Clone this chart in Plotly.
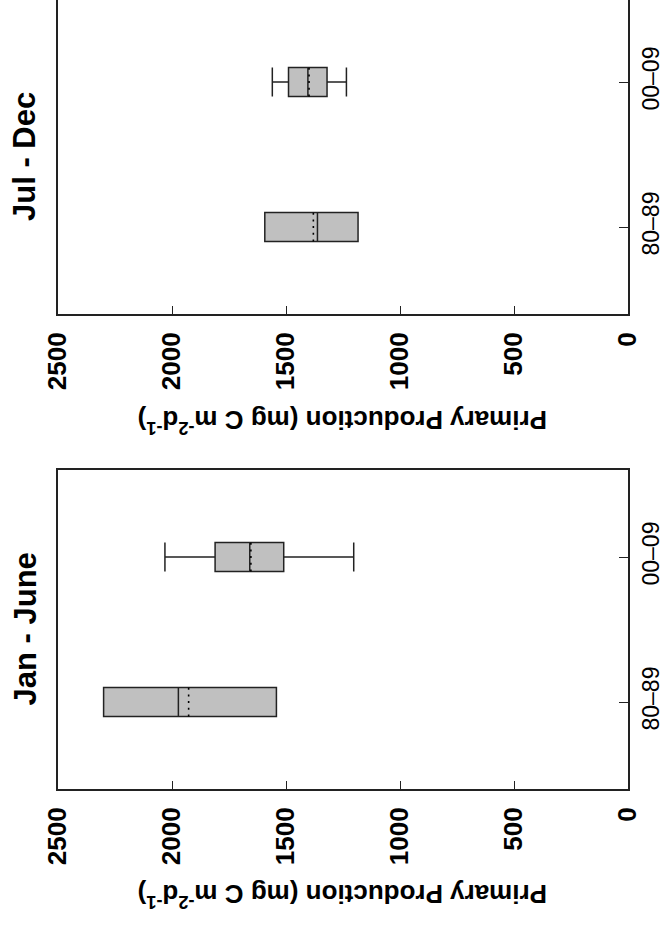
import plotly.graph_objects as go

# Decades compared in each half-year panel
categories = ["80–89", "00–09"]
cat_pos = [0, 1]

# Jan - June primary production summary (mg C m-2 d-1)
jan_q1 = [1542, 1510]
jan_median = [1972, 1659]
jan_q3 = [2300, 1811]
jan_lower = [1542, 1203]
jan_upper = [2300, 2031]
jan_mean = [1927, 1654]

# Jul - Dec primary production summary (mg C m-2 d-1)
jul_q1 = [1184, 1320]
jul_median = [1362, 1404]
jul_q3 = [1593, 1489]
jul_lower = [1184, 1235]
jul_upper = [1593, 1560]
jul_mean = [1380, 1399]

value_ticks = [0, 500, 1000, 1500, 2000, 2500]
axis_title = "Primary Production (mg C m<sup>-2</sup>d<sup>-1</sup>)"

W, H = 669, 929
ML, MR, MT, MB = 58, 41, 0, 140
BOX_W = 0.2
FONT = "Liberation Sans, Arial, sans-serif"
LINE = "#222222"
FILL = "#c0c0c0"

fig = go.Figure()

panels = [
    # (x axis, y axis, stats, title)
    ("x", "y", (jul_q1, jul_median, jul_q3, jul_lower, jul_upper, jul_mean), "Jul - Dec"),
    ("x2", "y2", (jan_q1, jan_median, jan_q3, jan_lower, jan_upper, jan_mean), "Jan - June"),
]

for xa, ya, stats, _ in panels:
    q1, med, q3, lo, hi, mean = stats
    for i, p in enumerate(cat_pos):
        fig.add_trace(go.Box(
            y=[p], q1=[q1[i]], median=[med[i]], q3=[q3[i]],
            lowerfence=[lo[i]], upperfence=[hi[i]],
            orientation="h", width=BOX_W, whiskerwidth=1,
            fillcolor=FILL, line=dict(color=LINE, width=1.5),
            boxpoints=False, showlegend=False, hoverinfo="skip",
            xaxis=xa, yaxis=ya,
        ))
        # dotted mean line across the box
        fig.add_trace(go.Scatter(
            x=[mean[i], mean[i]], y=[p - BOX_W / 2, p + BOX_W / 2],
            mode="lines", line=dict(color="#000000", width=1.6, dash="2px,4.7px"),
            showlegend=False, hoverinfo="skip",
            xaxis=xa, yaxis=ya,
        ))

plot_h = H - MT - MB
top_dom = [(plot_h - 314) / plot_h, 1.0]
bot_dom = [0.0, (plot_h - 470) / plot_h]
px_per_unit = 145.0

xaxis_common = dict(
    range=[2500, 0], tickvals=value_ticks, ticks="inside", ticklen=8,
    tickwidth=1, tickcolor=LINE, tickangle=-90,
    tickfont=dict(family=FONT, size=26, color="#000000", weight="bold"),
    showline=True, linecolor=LINE, linewidth=2, showgrid=False, zeroline=False,
    ticklabelstandoff=6, automargin=False, fixedrange=True,
)
yaxis_common = dict(
    tickvals=cat_pos, ticktext=categories, side="right", ticks="inside",
    ticklen=9, tickwidth=1, tickcolor=LINE, tickangle=-90,
    tickfont=dict(family=FONT, size=23, color="#000000"),
    showline=True, linecolor=LINE, linewidth=2, mirror=True,
    showgrid=False, zeroline=False, automargin=False, fixedrange=True,
    ticklabelstandoff=1,
)

top_range = [-0.6, -0.6 + 314 / px_per_unit]
bot_range = [-0.6, 1.6]

fig.update_layout(
    width=W, height=H,
    margin=dict(l=ML, r=MR, t=MT, b=MB),
    paper_bgcolor="white", plot_bgcolor="white",
    xaxis=dict(xaxis_common, domain=[0, 1], anchor="y", mirror=False),
    yaxis=dict(yaxis_common, domain=top_dom, anchor="x", range=top_range),
    xaxis2=dict(xaxis_common, domain=[0, 1], anchor="y2", mirror=True),
    yaxis2=dict(yaxis_common, domain=bot_dom, anchor="x2", range=bot_range),
)

plot_w = W - ML - MR


def px_x(px):
    return (px - ML) / plot_w


def px_y(py):
    return (plot_h - (py - MT)) / plot_h


annotations = []
for (title, dom, title_y) in [
    ("Jul - Dec", top_dom, 421),
    ("Jan - June", bot_dom, 896),
]:
    annotations.append(dict(
        text=title, textangle=-90, xref="paper", yref="paper",
        x=px_x(25), y=(dom[0] + dom[1]) / 2, xanchor="center", yanchor="middle",
        showarrow=False, font=dict(family=FONT, size=31, color="#000000", weight="bold"),
    ))
    annotations.append(dict(
        text=axis_title, textangle=180, xref="paper", yref="paper",
        x=0.5, y=px_y(title_y), xanchor="center", yanchor="middle",
        showarrow=False, font=dict(family=FONT, size=26, color="#000000", weight="bold"),
    ))
fig.update_layout(annotations=annotations)

fig.write_html("out.html")
